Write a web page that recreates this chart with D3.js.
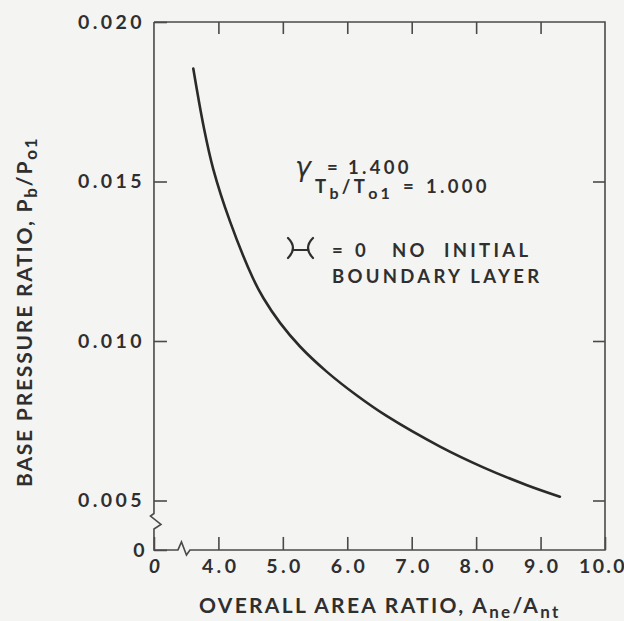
<!DOCTYPE html>
<html>
<head>
<meta charset="utf-8">
<script src="https://cdn.jsdelivr.net/npm/d3@7/dist/d3.min.js"></script>
<style>
  html, body { margin: 0; padding: 0; background: #f4f4f2; }
  svg { display: block; }
  text { font-family: Lato, "Noto Sans", sans-serif; font-weight: 700; fill: #2f2f2f; }
</style>
</head>
<body>
<script>
// Base pressure ratio vs overall area ratio (gamma = 1.4, Tb/To1 = 1.0)
const areaRatio     = [3.61, 3.77, 3.92, 4.18, 4.54, 4.70, 4.96, 5.27, 5.68, 6.15, 6.61, 7.44, 8.11, 8.79, 9.30];
const pressureRatio = [0.01854, 0.01673, 0.01539, 0.01375, 0.01195, 0.01134, 0.01056, 0.00982, 0.00904, 0.00829, 0.00765, 0.00669, 0.00604, 0.00548, 0.00512];

// Both axes are broken: the first tick of each is the true zero,
// drawn one step before the first labelled value.
const xTickValues = [3, 4, 5, 6, 7, 8, 9, 10];
const xTickLabels = ["0", "4.0", "5.0", "6.0", "7.0", "8.0", "9.0", "10.0"];
const yTickValues = [0.00345, 0.005, 0.010, 0.015, 0.020];
const yTickLabels = ["0", "0.005", "0.010", "0.015", "0.020"];

const W = 624, H = 621;
const ink = "#2f2f2f", frameInk = "#4a4a4a";

const svg = d3.select("body").append("svg").attr("width", W).attr("height", H);

const x = d3.scaleLinear().domain([4, 10]).range([218.4, 605]);
const y = d3.scaleLinear().domain([0.005, 0.020]).range([500.5, 22]);

const fmtX = d => xTickLabels[xTickValues.indexOf(d)];
const fmtY = d => yTickLabels[yTickValues.indexOf(d)];

// Frame with break marks on the left and bottom edges
const x0 = x(xTickValues[0]), x1 = x(10), yTop = y(0.020), yBot = y(yTickValues[0]);
const yb = y(0.005);
const frame = [
  [x0, yTop], [x0, yb + 13], [x0 - 3.5, yb + 15.5], [x0 + 7, yb + 24], [x0, yb + 28.5],
  [x0, yBot], [x0 + 24, yBot], [x0 + 27.5, yBot - 8], [x0 + 32.5, yBot + 5], [x0 + 36, yBot],
  [x1, yBot], [x1, yTop], [x0, yTop]
];
svg.append("path")
  .attr("d", d3.line()(frame))
  .attr("fill", "none").attr("stroke", frameInk).attr("stroke-width", 1.6)
  .attr("stroke-linejoin", "miter");

function styleAxis(g) {
  g.select(".domain").remove();
  g.selectAll(".tick line").attr("stroke", frameInk).attr("stroke-width", 1.6);
  g.selectAll(".tick text")
    .attr("fill", ink)
    .style("font-size", "19.5px")
    .style("letter-spacing", "3.4px")
    .style("font-family", "Lato, 'Noto Sans', sans-serif")
    .style("font-weight", 700);
}

// Bottom axis: ticks point into the plot
svg.append("g").attr("transform", `translate(0,${yBot})`)
  .call(d3.axisBottom(x).tickValues(xTickValues).tickFormat(fmtX).tickSize(-13).tickSizeOuter(0).tickPadding(9))
  .call(styleAxis)
  .call(g => g.selectAll(".tick text").attr("dx", "1.7px"))
  .call(g => g.selectAll(".tick").filter(d => d === 3).select("text").style("font-style", "italic"))
  .call(g => g.selectAll(".tick").filter(d => d === 10).select("text").attr("dx", "-2.5px").style("letter-spacing", "2.4px"));

// Top axis: ticks only
svg.append("g").attr("transform", `translate(0,${yTop})`)
  .call(d3.axisTop(x).tickValues(xTickValues.slice(1, -1)).tickFormat("").tickSize(-12).tickSizeOuter(0))
  .call(styleAxis);

// Left axis
svg.append("g").attr("transform", `translate(${x0},0)`)
  .call(d3.axisLeft(y).tickValues(yTickValues).tickFormat(fmtY).tickSize(-13).tickSizeOuter(0).tickPadding(9))
  .call(styleAxis)
  .call(g => g.selectAll(".tick").filter(d => d === yTickValues[0]).select("text").attr("x", -6));

// Right axis: ticks only
svg.append("g").attr("transform", `translate(${x1},0)`)
  .call(d3.axisRight(y).tickValues(yTickValues.slice(1, -1)).tickFormat("").tickSize(-12).tickSizeOuter(0))
  .call(styleAxis);

// The curve
const pts = areaRatio.map((v, i) => [v, pressureRatio[i]]);
svg.append("path")
  .datum(pts)
  .attr("d", d3.line().x(d => x(d[0])).y(d => y(d[1])).curve(d3.curveCatmullRom.alpha(0.5)))
  .attr("fill", "none").attr("stroke", "#2a2a2a").attr("stroke-width", 2.6)
  .attr("stroke-linecap", "round");

// Axis titles
const xt = svg.append("text")
  .attr("x", 199).attr("y", 613)
  .style("font-size", "21px").style("letter-spacing", "2.3px");
xt.append("tspan").text("OVERALL AREA RATIO, A");
xt.append("tspan").text("ne").attr("dy", 5).style("font-size", "17px");
xt.append("tspan").text("/A").attr("dy", -5);
xt.append("tspan").text("nt").attr("dy", 5).style("font-size", "17px");

const yt = svg.append("text")
  .attr("transform", "translate(32,487) rotate(-90)")
  .style("font-size", "21px").style("letter-spacing", "1.8px");
yt.append("tspan").text("BASE PRESSURE RATIO, P");
yt.append("tspan").text("b").attr("dy", 5).style("font-size", "17px");
yt.append("tspan").text("/P").attr("dy", -5);
yt.append("tspan").text("o1").attr("dy", 5).style("font-size", "17px");

// Annotation block
const ann = svg.append("g").style("font-size", "18.5px").style("letter-spacing", "3.3px");
const g1 = ann.append("text").attr("x", 295).attr("y", 176);
g1.append("tspan").text("γ")
  .style("font-family", "'DejaVu Sans', sans-serif").style("font-size", "27px")
  .style("font-style", "oblique").style("font-weight", 400).style("letter-spacing", "0px");
g1.append("tspan").text("=").attr("x", 327).attr("dy", -2);
g1.append("tspan").text("1.400").attr("x", 348);

const t2 = ann.append("text").attr("x", 315).attr("y", 193);
t2.append("tspan").text("T");
t2.append("tspan").text("b").attr("dy", 6).style("font-size", "16px");
t2.append("tspan").text("/T").attr("dy", -6);
t2.append("tspan").text("o1").attr("dy", 6).style("font-size", "16px");
t2.append("tspan").text("=").attr("dy", -6).attr("x", 403);
t2.append("tspan").text("1.000").attr("x", 426);

// boundary-layer parameter symbol
svg.append("path")
  .attr("d", "M288,238 Q298,248 288,258 M293,250 L307,250 M313,238 Q303,248 313,258")
  .attr("fill", "none").attr("stroke", ink).attr("stroke-width", 2.2).attr("stroke-linecap", "round");

const t3 = ann.append("text").attr("y", 257);
t3.append("tspan").text("=").attr("x", 332);
t3.append("tspan").text("0").attr("x", 355);
t3.append("tspan").text("NO").attr("x", 392);
t3.append("tspan").text("INITIAL").attr("x", 444);
ann.append("text").attr("x", 332).attr("y", 283).text("BOUNDARY LAYER");
</script>
</body>
</html>
